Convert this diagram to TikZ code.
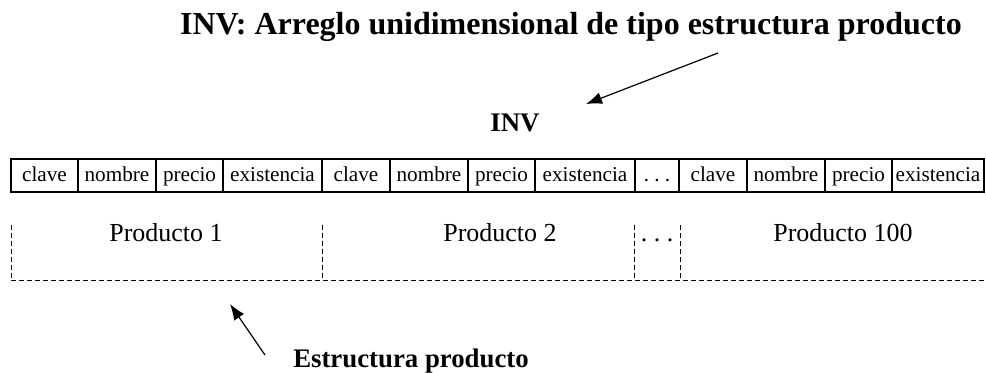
\documentclass[tikz,border=0pt]{standalone}
\usepackage{fontspec}
\setmainfont{Liberation Serif}
\usepackage{tikz}
\usetikzlibrary{arrows.meta}

\tikzset{
  cell/.style={draw, line width=0.6pt, inner sep=0pt, minimum height=16.5pt,
    text height=1.5ex, text depth=0.3ex, font=\fontsize{10.6}{13}\selectfont},
  prod/.style={text height=1.6ex, text depth=0.3ex, font=\fontsize{13}{15}\selectfont},
  titulo/.style={font=\bfseries\fontsize{16}{19}\selectfont},
  etiq/.style={font=\bfseries\fontsize{13.4}{16}\selectfont},
  borde/.style={dash pattern=on 2.5pt off 1.5pt, line width=0.5pt},
  flecha/.style={-{Latex[length=8pt,width=6pt]}, line width=0.6pt}
}

\begin{document}
\begin{tikzpicture}[x=0.5pt, y=-0.5pt]
  \useasboundingbox (0,0) rectangle (986,372);

  \node[titulo] (T) at (571,27) {INV: Arreglo unidimensional de tipo estructura producto};
  \node[etiq] (INV) at (515,123) {INV};

  % celdas del arreglo
  \foreach \a/\b/\t [count=\i] in {11/78/clave, 78/156/nombre, 156/223/precio, 223/322/existencia,
      322/390/clave, 390/468/nombre, 468/535/precio, 535/635/existencia, 635/679/{.\ .\ .},
      679/747/clave, 747/825/nombre, 825/892/precio, 892/984/existencia}
    \node[cell, minimum width={(\b-\a)*0.5pt}] (c\i) at ({(\a+\b)/2},175.5) {\t};

  % productos
  \coordinate (p0) at (11,225);
  \coordinate (p1) at (322,225);
  \coordinate (p2) at (634,225);
  \coordinate (p3) at (680,225);
  \coordinate (q0) at (11,280);
  \coordinate (q1) at (322,280);
  \coordinate (q2) at (634,280);
  \coordinate (q3) at (680,280);
  \coordinate (q4) at (984,280);
  \draw[borde] (p0) -- (q0);
  \draw[borde] (p1) -- (q1);
  \draw[borde] (p2) -- (q2);
  \draw[borde] (p3) -- (q3);
  \draw[borde] (q0) -- (q4);

  \node[prod] (P1) at (166,236) {Producto 1};
  \node[prod] (P2) at (500,236) {Producto 2};
  \node[prod] (Pd) at (657,236) {.\ .\ .};
  \node[prod] (P100) at (843,236) {Producto 100};

  \node[etiq] (E) at (411,361) {Estructura producto};

  % flechas
  \coordinate (a1) at (718,53);
  \coordinate (a2) at (586,104);
  \coordinate (b1) at (265,355);
  \coordinate (b2) at (230,304);
  \draw[flecha] (a1) -- (a2);
  \draw[flecha] (b1) -- (b2);
\end{tikzpicture}
\end{document}
